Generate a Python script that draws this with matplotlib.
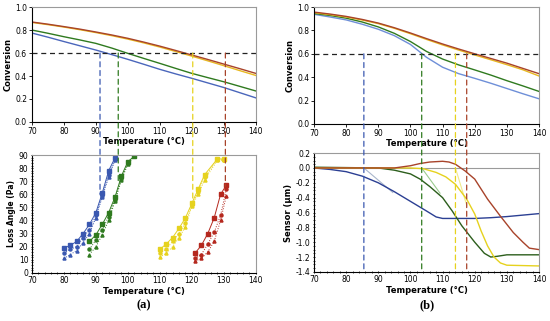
#!/usr/bin/env python3
import matplotlib
matplotlib.use("Agg")
import matplotlib.pyplot as plt
from matplotlib.patches import ConnectionPatch
from matplotlib.ticker import MultipleLocator

# ---- (a) conversion curves
conv_a_t = [70, 75, 80, 85, 90, 95, 100, 105, 110, 115, 120, 125, 130, 135, 140]
conv_a_brown = [0.87, 0.851, 0.83, 0.808, 0.783, 0.757, 0.728, 0.695, 0.66, 0.622, 0.583,
                0.544, 0.504, 0.464, 0.423]
conv_a_yellow = [0.866, 0.847, 0.826, 0.803, 0.778, 0.751, 0.721, 0.688, 0.652, 0.613, 0.573,
                 0.532, 0.49, 0.447, 0.405]
conv_a_green = [0.80, 0.772, 0.742, 0.714, 0.684, 0.643, 0.597, 0.553, 0.51, 0.466, 0.423,
                0.386, 0.35, 0.31, 0.27]
conv_a_blue = [0.774, 0.738, 0.70, 0.663, 0.626, 0.586, 0.545, 0.502, 0.458, 0.418, 0.38,
               0.34, 0.30, 0.255, 0.21]
gel_a = {"blue": 91.3, "green": 97.0, "yellow": 120.3, "brown": 130.5}
gel_a_end = {"blue": 60, "green": 68, "yellow": 53, "brown": 66}

# ---- (a) loss angle, three runs per formulation
la_blue_t = [80, 82, 84, 86, 88, 90, 92, 94, 96]
la_blue = [[19, 21, 24, 30, 37, 46, 61, 78, 88],
           [15, 18, 20, 27, 33, 44, 59, 75, 87],
           [11, 14, 17, 23, 30, 42, 58, 73, 86]]
la_green_t = [88, 90, 92, 94, 96, 98, 100, 102]
la_green = [[24, 29, 37, 46, 58, 74, 85, 89],
            [18, 25, 33, 43, 56, 72, 84, 89],
            [14, 20, 29, 40, 55, 71, 83, 89]]
la_yellow_t = [110, 112, 114, 116, 118, 120, 122, 124, 128, 130]
la_yellow = [[18, 22, 27, 34, 42, 53, 64, 75, 87, 87],
             [15, 18, 24, 30, 38, 52, 62, 73, 87, 86],
             [12, 15, 20, 27, 35, 51, 60, 71, 86, 86]]
la_red_t = [121, 123, 125, 127, 129, 130.8]
la_red = [[15, 21, 30, 42, 60, 67],
          [11, 14, 22, 31, 44, 64],
          [9, 11, 16, 24, 40, 59]]

# ---- (b) conversion curves
conv_b_t = [70, 75, 80, 85, 90, 95, 100, 105, 110, 115, 120, 125, 130, 135, 140]
conv_b_brown = [0.957, 0.94, 0.92, 0.894, 0.863, 0.823, 0.778, 0.73, 0.684, 0.641, 0.60,
                0.56, 0.52, 0.475, 0.43]
conv_b_yellow = [0.952, 0.935, 0.915, 0.889, 0.858, 0.818, 0.772, 0.723, 0.676, 0.632, 0.59,
                 0.549, 0.507, 0.463, 0.41]
conv_b_green = [0.945, 0.928, 0.905, 0.872, 0.83, 0.775, 0.705, 0.62, 0.555, 0.505, 0.462,
                0.418, 0.37, 0.325, 0.278]
conv_b_blue = [0.938, 0.915, 0.89, 0.853, 0.81, 0.755, 0.68, 0.57, 0.485, 0.43, 0.39,
               0.348, 0.303, 0.258, 0.215]
gel_b = {"blue": 85.5, "green": 103.5, "yellow": 114.0, "brown": 117.5}

# ---- (b) sensor signal
sen_blue_t = [70, 75, 80, 85, 90, 95, 100, 105, 108, 110, 115, 120, 125, 130, 135, 140]
sen_blue = [0.0, -0.02, -0.05, -0.11, -0.20, -0.32, -0.45, -0.58, -0.66, -0.68, -0.68,
            -0.68, -0.67, -0.655, -0.635, -0.615]
sen_green_t = [70, 80, 90, 95, 100, 103, 106, 110, 113, 116, 120, 123, 125, 127, 130, 140]
sen_green = [0.01, 0.005, 0.0, -0.03, -0.08, -0.15, -0.25, -0.40, -0.58, -0.78, -1.0,
             -1.15, -1.2, -1.19, -1.17, -1.17]
sen_yellow_t = [70, 90, 100, 104, 108, 111, 114, 117.5, 120, 122, 124, 126, 128, 130, 140]
sen_yellow = [0.0, 0.0, 0.0, -0.01, -0.06, -0.12, -0.22, -0.42, -0.62, -0.85, -1.05, -1.2,
              -1.28, -1.31, -1.32]
sen_brown_t = [70, 95, 100, 103, 106, 110, 112, 114, 117, 120, 124, 128, 132, 135, 137, 140]
sen_brown = [0.0, 0.0, 0.03, 0.06, 0.08, 0.09, 0.08, 0.05, -0.04, -0.15, -0.42, -0.65,
             -0.87, -1.0, -1.08, -1.10]
tangent_t = {"blue": [85.5, 94.5], "green": [103.5, 109.2], "yellow": [114.0, 117.5]}
tangent_v = {"blue": [0.0, -0.33], "green": [0.0, -0.34], "yellow": [0.0, -0.5]}

COL = {"blue": "#3a58b0", "green": "#2f7a1f", "yellow": "#e6d21e", "brown": "#a8432a"}
LIGHT = {"blue": "#a9b6cc", "green": "#9acb8e", "yellow": "#f1e98a"}
DASH = (0, (4, 3))

plt.rcParams["font.family"] = "DejaVu Sans"


def style_axes(ax, minor=False):
    for side in ("top", "right"):
        ax.spines[side].set_color("#9a9a9a")
        ax.spines[side].set_linewidth(0.8)
    for side in ("left", "bottom"):
        ax.spines[side].set_linewidth(0.8)
    ax.tick_params(labelsize=5.5, length=2, width=0.6, pad=1.5, direction="inout" if minor else "out")
    ax.tick_params(top=False, right=False)
    if minor:
        ax.tick_params(which="minor", length=1.5, width=0.5, direction="inout")
    ax.set_xlim(70, 140)
    ax.xaxis.set_major_locator(MultipleLocator(10))
    ax.set_xlabel("Temperature (°C)", fontsize=6, fontweight="bold", labelpad=1)


def conversion_panel(ax, t, curves):
    for name, vals, color in curves:
        ax.plot(t, vals, color=color, lw=1.0)
    ax.axhline(0.6, color="#222222", ls=DASH, lw=0.9)
    ax.set_ylim(0, 1.0)
    ax.yaxis.set_major_locator(MultipleLocator(0.2))
    ax.yaxis.set_major_formatter(lambda v, p: f"{v:.1f}")
    ax.set_ylabel("Conversion", fontsize=6, fontweight="bold", labelpad=2)
    style_axes(ax)


def connect(fig, top, bottom, x, y_end, color):
    con = ConnectionPatch(xyA=(x, 0.6), coordsA="data", axesA=top,
                          xyB=(x, y_end), coordsB="data", axesB=bottom,
                          color=color, ls=DASH, lw=0.9)
    fig.add_artist(con)


fig = plt.figure(figsize=(5.5, 3.21), dpi=100)
ax_a1 = fig.add_axes([0.058, 0.620, 0.407, 0.358])
ax_a2 = fig.add_axes([0.058, 0.150, 0.407, 0.367])
ax_b1 = fig.add_axes([0.571, 0.614, 0.409, 0.364])
ax_b2 = fig.add_axes([0.571, 0.153, 0.409, 0.370])

# (a) top
conversion_panel(ax_a1, conv_a_t,
                 [("blue", conv_a_blue, "#4a66bb"), ("green", conv_a_green, COL["green"]),
                  ("yellow", conv_a_yellow, "#e8b820"), ("brown", conv_a_brown, COL["brown"])])

# (a) bottom
markers = ["s", "o", "^"]
lstyles = ["-", ":", ":"]
for name, t, runs in [("blue", la_blue_t, la_blue), ("green", la_green_t, la_green),
                      ("yellow", la_yellow_t, la_yellow), ("brown", la_red_t, la_red)]:
    c = "#b5281e" if name == "brown" else COL[name]
    for run, m, ls in zip(runs, markers, lstyles):
        ax_a2.plot(t, run, color=c, lw=0.7, ls=ls, marker=m, ms=2.2, mec=c)
ax_a2.set_ylim(0, 90)
ax_a2.yaxis.set_major_locator(MultipleLocator(10))
ax_a2.yaxis.set_minor_locator(MultipleLocator(2))
ax_a2.xaxis.set_minor_locator(MultipleLocator(2))
ax_a2.set_ylabel("Loss Angle (Pa)", fontsize=5.5, fontweight="bold", labelpad=2)
style_axes(ax_a2, minor=True)

for name in ("blue", "green", "yellow", "brown"):
    connect(fig, ax_a1, ax_a2, gel_a[name], gel_a_end[name], COL[name])

# (b) top
conversion_panel(ax_b1, conv_b_t,
                 [("blue", conv_b_blue, "#6e8fd8"), ("green", conv_b_green, COL["green"]),
                  ("yellow", conv_b_yellow, "#e8b820"), ("brown", conv_b_brown, COL["brown"])])

# (b) bottom
ax_b2.axhline(0.0, color="#9a9a9a", lw=0.8)
for name in ("blue", "green", "yellow"):
    ax_b2.plot(tangent_t[name], tangent_v[name], color=LIGHT[name], lw=0.8)
ax_b2.plot(sen_blue_t, sen_blue, color="#2b3f93", lw=1.0)
ax_b2.plot(sen_green_t, sen_green, color="#2c5e1c", lw=1.0)
ax_b2.plot(sen_yellow_t, sen_yellow, color=COL["yellow"], lw=1.0)
ax_b2.plot(sen_brown_t, sen_brown, color=COL["brown"], lw=1.0)
ax_b2.set_ylim(-1.4, 0.2)
ax_b2.yaxis.set_major_locator(MultipleLocator(0.2))
ax_b2.yaxis.set_minor_locator(MultipleLocator(0.05))
ax_b2.xaxis.set_minor_locator(MultipleLocator(2))
ax_b2.yaxis.set_major_formatter(lambda v, p: f"{v:.1f}")
ax_b2.set_ylabel("Sensor (µm)", fontsize=6, fontweight="bold", labelpad=2)
style_axes(ax_b2, minor=True)

for name in ("blue", "green", "yellow", "brown"):
    connect(fig, ax_b1, ax_b2, gel_b[name], -1.4, COL[name])

fig.text(0.262, 0.04, "(a)", fontsize=9, fontweight="bold", family="Liberation Serif", ha="center")
fig.text(0.776, 0.04, "(b)", fontsize=9, fontweight="bold", family="Liberation Serif", ha="center")

fig.savefig("out.png", dpi=100)
